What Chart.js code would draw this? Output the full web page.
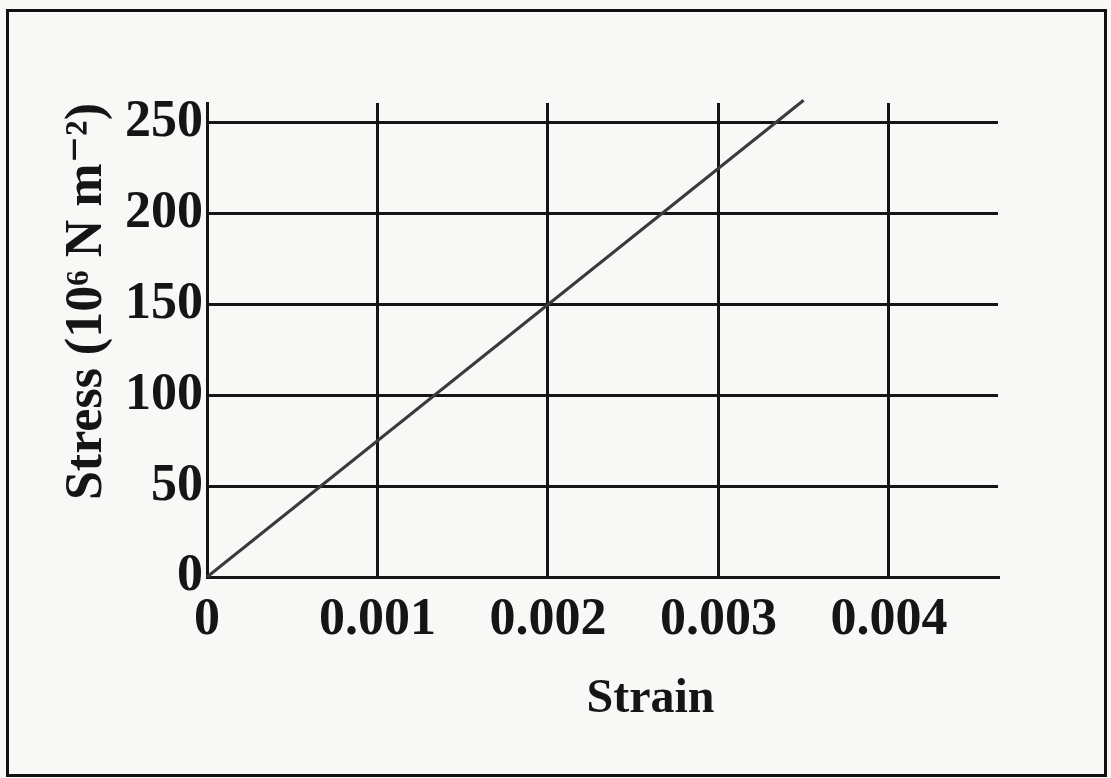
<!DOCTYPE html>
<html>
<head>
<meta charset="utf-8">
<script src="https://cdn.jsdelivr.net/npm/chart.js@4.4.1/dist/chart.umd.min.js"></script>
<style>
  body { margin: 0; background: #f8f8f6; }
  #wrap { position: relative; width: 1111px; height: 778px; }
  #frame { position: absolute; left: 6px; top: 9px; width: 1095px; height: 762px; border: 3px solid #111; pointer-events: none; }
</style>
</head>
<body>
<div id="wrap">
  <canvas id="Chart"></canvas>
  <div id="frame"></div>
</div>
<script>
// values
var strain = [0, 0.0035];
var stress = [0, 262.5];
var xTicks = [0, 0.001, 0.002, 0.003, 0.004];
var yTicks = [0, 50, 100, 150, 200, 250];

var ink = '#151515';
var serif = "'Liberation Serif', 'DejaVu Serif', serif";

var points = strain.map(function (s, i) { return { x: s, y: stress[i] }; });

var ctx = document.getElementById("Chart").getContext('2d');
var myChart = new Chart(ctx, {
    type: 'scatter',
    data: {
        datasets: [{
            label: 'Stress',
            data: points,
            showLine: true,
            borderColor: '#3a3a3a',
            borderWidth: 3,
            pointRadius: 0,
            clip: false
        }]
    },
    options: {
        responsive: true,
        maintainAspectRatio: false,
        animation: false,
        layout: { padding: { left: 62, top: 103, right: 113, bottom: 54 } },
        plugins: { legend: { display: false }, tooltip: { enabled: false } },
        scales: {
            x: {
                type: 'linear',
                min: 0,
                max: 0.00464,
                afterFit: function (scale) { scale.height = 147; },
                afterBuildTicks: function (scale) {
                    scale.ticks = xTicks.map(function (v) { return { value: v }; });
                },
                border: { color: ink, width: 3 },
                grid: { color: ink, lineWidth: 3, drawTicks: false },
                ticks: {
                    padding: 15,
                    maxRotation: 0,
                    autoSkip: false,
                    color: ink,
                    font: { family: serif, size: 52, weight: 'bold', lineHeight: 1.1 },
                    callback: function (value) { return value === 0 ? '0' : value.toFixed(3); }
                },
                title: {
                    display: true,
                    text: '        Strain',
                    color: ink,
                    padding: 0,
                    font: { family: serif, size: 48, weight: 'bold', lineHeight: 1 }
                }
            },
            y: {
                min: 0,
                max: 261,
                afterFit: function (scale) { scale.width = 145; },
                afterBuildTicks: function (scale) {
                    scale.ticks = yTicks.map(function (v) { return { value: v }; });
                },
                border: { color: ink, width: 3 },
                grid: { color: ink, lineWidth: 3, drawTicks: false },
                ticks: {
                    padding: 4,
                    color: ink,
                    font: { family: serif, size: 52, weight: 'bold', lineHeight: 1.1 }
                },
                title: {
                    display: true,
                    text: 'Stress (10\u2076 N m\u207B\u00B2)',
                    align: 'end',
                    color: ink,
                    padding: 0,
                    font: { family: serif, size: 52, weight: 'bold', lineHeight: 1 }
                }
            }
        }
    }
});
</script>
</body>
</html>
